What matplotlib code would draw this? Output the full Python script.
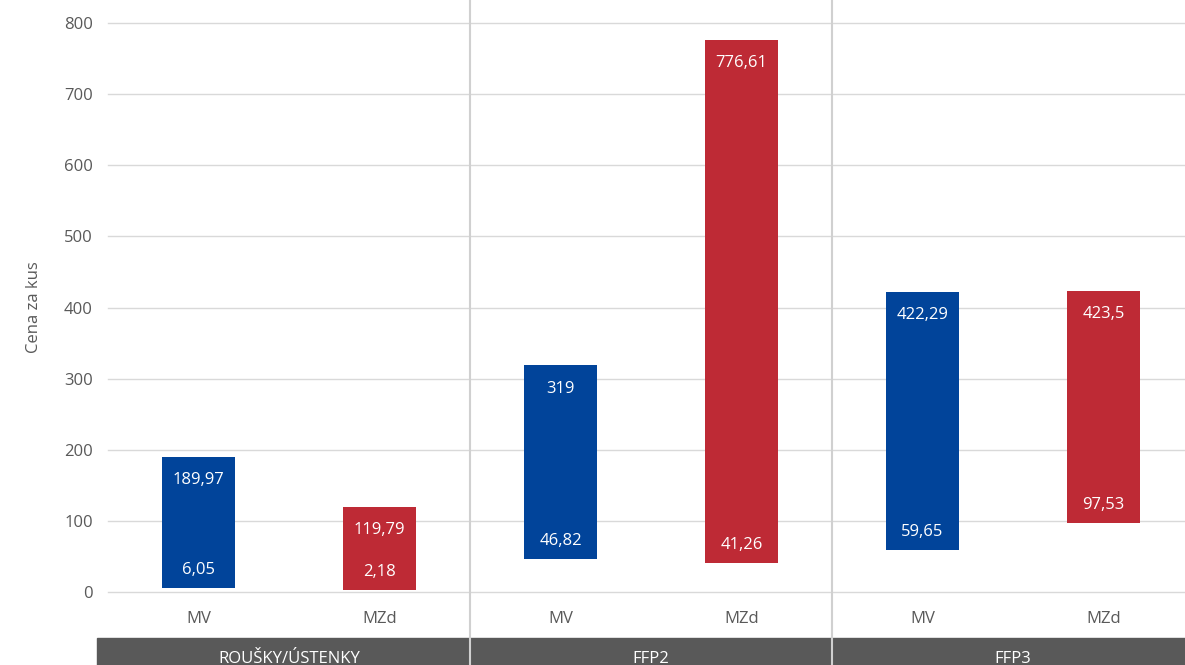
import numpy as np
import matplotlib.pyplot as plt
from matplotlib.patches import Rectangle

plt.rcParams['font.family'] = ['Open Sans', 'DejaVu Sans']

# data
groups = ['ROUŠKY/ÚSTENKY', 'FFP2', 'FFP3']
series = ['MV', 'MZd']
mv_min = [6.05, 46.82, 59.65]
mv_max = [189.97, 319, 422.29]
mzd_min = [2.18, 41.26, 97.53]
mzd_max = [119.79, 776.61, 423.5]

blue = '#01449A'
red = '#BE2A35'
grey_txt = '#595959'

def fmt(v):
    return f"{v:g}".replace('.', ',')

fig = plt.figure(figsize=(11.85, 6.65), dpi=100)
ax = fig.add_axes([108 / 1185, 1 - 592 / 665, 1086 / 1185, 569 / 665])

x = np.arange(len(groups) * 2)
lows = []
highs = []
cols = []
for i in range(len(groups)):
    lows += [mv_min[i], mzd_min[i]]
    highs += [mv_max[i], mzd_max[i]]
    cols += [blue, red]
lows = np.array(lows)
highs = np.array(highs)

ax.bar(x, highs - lows, bottom=lows, width=0.4, color=cols, zorder=3)

for xi, lo, hi in zip(x, lows, highs):
    ax.annotate(fmt(hi), (xi, hi), xytext=(0, -17), textcoords='offset points',
                ha='center', va='center', color='white', fontsize=12, zorder=4)
    ax.annotate(fmt(lo), (xi, lo), xytext=(0, 13), textcoords='offset points',
                ha='center', va='center', color='white', fontsize=12, zorder=4)

ax.set_xlim(-0.5, 5.5)
ax.set_ylim(0, 800)
yt = range(0, 801, 100)
ax.set_yticks(yt)
for t in yt:
    ax.axhline(t, color='#d9d9d9', linewidth=1, zorder=0, clip_on=False)
ax.set_xticks(x)
ax.set_xticklabels(series * len(groups))
ax.tick_params(axis='both', length=0, labelsize=12, labelcolor=grey_txt)
ax.tick_params(axis='x', pad=14)
ax.tick_params(axis='y', pad=11)
for s in ax.spines.values():
    s.set_visible(False)
ax.set_ylabel('Cena za kus', fontsize=12, color=grey_txt, labelpad=16)

# category band under the axis
trans = ax.get_xaxis_transform()
band_lo, band_hi = -0.13, -0.0808
edges = [-0.56, 1.5, 3.5, 5.6]
for i, g in enumerate(groups):
    ax.add_patch(Rectangle((edges[i], band_lo), edges[i + 1] - edges[i], band_hi - band_lo,
                           transform=trans, color='#595959', clip_on=False, zorder=2))
    ax.text((max(edges[i], -0.5) + min(edges[i + 1], 5.5)) / 2, -0.117, g, transform=trans,
            ha='center', va='center', color='white', fontsize=12)

for b in [1.5, 3.5]:
    ax.axvline(b, ymin=-0.13, ymax=1.05, color='#d0d0d0', linewidth=1.5, clip_on=False, zorder=3)

fig.savefig('out.png', dpi=100)
